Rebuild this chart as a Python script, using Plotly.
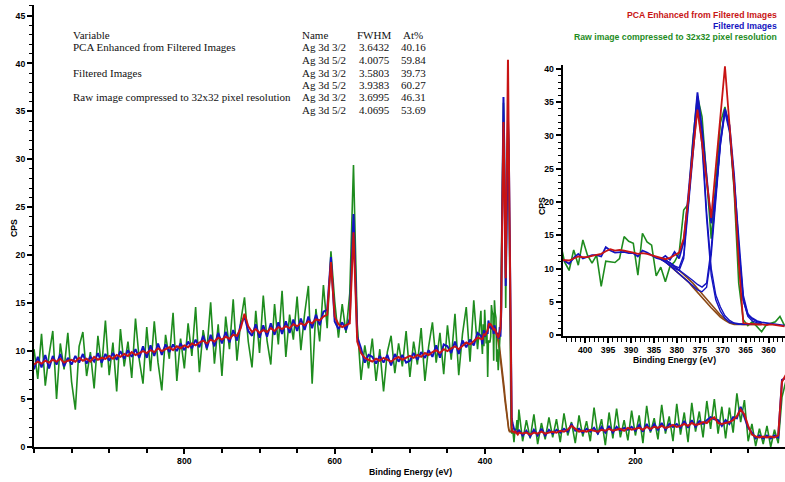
import plotly.graph_objects as go

W, H = 785, 482

# ---------------- energy grids (eV) ----------------
energy_survey_high = [1000 - 5 * i for i in range(119)]   # 1000 .. 410
energy_detail = [405.5 - i for i in range(50)]            # 405.5 .. 356.5
energy_survey_low = [355 - 5 * i for i in range(72)]      # 355 .. 0
energy_fit = [383.5 - i for i in range(23)]               # 383.5 .. 361.5

# ---------------- PCA enhanced (red) ----------------
pca_high = [8.6, 8.9, 8.7, 9.0, 8.8, 9.1, 8.9, 9.2, 8.8, 9.0,
            9.1, 8.9, 9.3, 9.0, 9.2, 8.9, 9.4, 9.1, 9.3, 9.2,
            9.5, 9.2, 9.6, 9.4, 9.7, 9.5, 9.9, 9.6, 9.8, 10.0,
            9.8, 10.1, 9.9, 10.3, 10.0, 10.2, 10.4, 10.1, 10.5, 10.3,
            10.6, 10.4, 10.8, 10.6, 10.9, 11.1, 10.8, 11.2, 11.0, 11.4,
            11.2, 11.5, 11.3, 11.7, 11.6, 12.4, 13.9, 12.6, 12.0, 12.3,
            11.9, 12.2, 12.0, 12.4, 12.1, 12.5, 12.3, 12.6, 12.4, 12.8,
            12.6, 12.9, 12.7, 13.1, 12.9, 13.3, 13.2, 13.6, 13.8, 19.3,
            13.6, 12.8, 12.5, 12.7, 12.9, 22.4, 11.0, 9.8, 9.3, 9.1,
            8.9, 9.2, 9.0, 9.3, 9.1, 8.9, 9.2, 9.4, 9.1, 9.3,
            9.5, 9.3, 9.6, 9.4, 9.8, 9.6, 9.9, 10.1, 9.8, 10.2,
            10.0, 10.3, 10.5, 10.2, 10.6, 10.9, 10.7, 11.1, 11.4]
pca_detail = [11.3, 11.3, 11.2, 11.5, 11.8, 11.7, 11.7, 11.9, 12.0, 12.2,
              12.6, 12.9, 12.7, 12.8, 12.7, 12.6, 12.4, 12.2, 12.3, 12.2,
              12.0, 11.8, 11.5, 11.4, 11.6, 12.0, 12.4, 14.5, 20.5, 27.5,
              33.9, 28.8, 23.2, 17.6, 25.2, 32.8, 40.4, 31.5, 22.5, 11.0,
              1.8, 1.7, 1.6, 1.6, 1.6, 1.5, 1.6, 1.5, 1.4, 1.3]
pca_low = [1.5, 1.4, 1.5, 1.3, 1.5, 1.4, 1.6, 1.4, 1.5, 1.6,
           1.5, 1.7, 1.6, 1.8, 2.2, 1.9, 1.6, 1.7, 1.6, 1.8,
           1.7, 1.6, 1.8, 1.7, 1.9, 1.7, 1.8, 1.9, 1.7, 2.0,
           1.8, 1.9, 2.0, 1.8, 2.1, 1.9, 2.1, 2.0, 2.2, 2.0,
           2.1, 2.3, 2.1, 2.2, 2.4, 2.2, 2.5, 2.3, 2.4, 2.6,
           2.5, 2.9, 3.1, 2.5, 2.4, 2.5, 2.6, 2.8, 3.2, 3.9,
           3.4, 2.2, 1.3, 1.1, 1.0, 1.1, 1.0, 1.1, 1.0, 1.2,
           6.8, 7.5]

# ---------------- Filtered images (blue) ----------------
filt_high = [8.1, 9.4, 8.3, 9.6, 8.2, 9.5, 8.6, 9.7, 8.4, 9.3,
             8.6, 9.5, 8.8, 9.7, 8.7, 9.4, 8.9, 9.8, 8.8, 9.7,
             9.0, 9.8, 9.1, 10.0, 9.2, 10.1, 9.4, 10.2, 9.3, 10.5,
             9.3, 10.6, 9.5, 10.8, 9.6, 10.7, 9.9, 10.7, 10.0, 10.8,
             10.1, 11.0, 10.3, 11.2, 10.4, 11.6, 10.3, 11.7, 10.5, 11.9,
             10.8, 12.0, 10.9, 12.2, 11.1, 12.8, 13.6, 12.1, 11.6, 12.8,
             11.4, 12.7, 11.5, 12.9, 11.7, 13.0, 11.8, 13.1, 11.9, 13.3,
             12.1, 13.4, 12.2, 13.6, 12.4, 13.8, 12.7, 14.1, 14.3, 19.8,
             13.1, 12.3, 13.0, 12.2, 13.4, 24.3, 11.5, 10.3, 8.8, 9.6,
             9.4, 8.7, 9.5, 8.8, 9.6, 8.5, 9.7, 8.9, 9.6, 8.8,
             9.0, 9.8, 9.1, 9.9, 9.3, 10.1, 9.4, 10.6, 9.3, 10.7,
             10.5, 9.8, 11.0, 9.7, 11.1, 10.4, 11.2, 10.6, 11.9]
filt_detail = [11.6, 11.2, 10.7, 11.6, 12.2, 11.5, 11.8, 12.0, 12.0, 11.8,
               13.2, 12.7, 12.4, 12.5, 12.5, 12.3, 12.3, 11.8, 12.7, 12.4,
               12.0, 11.6, 11.4, 11.9, 11.3, 12.5, 11.5, 14.0, 21.0, 29.0,
               36.5, 31.0, 24.0, 16.8, 21.5, 29.0, 34.0, 31.5, 24.0, 13.0,
               5.3, 3.0, 2.5, 2.1, 1.9, 1.8, 1.7, 1.6, 1.6, 1.4]
filt_low = [1.8, 1.2, 1.7, 1.1, 1.8, 1.2, 1.9, 1.2, 1.8, 1.4,
            1.8, 1.5, 1.9, 1.6, 2.4, 1.7, 1.9, 1.5, 1.9, 1.6,
            2.0, 1.4, 2.1, 1.5, 2.2, 1.5, 2.1, 1.7, 2.0, 1.8,
            2.1, 1.7, 2.3, 1.6, 2.4, 1.7, 2.4, 1.8, 2.5, 1.8,
            2.4, 2.1, 2.4, 2.0, 2.7, 2.0, 2.8, 2.1, 2.7, 2.4,
            2.8, 3.1, 2.9, 2.8, 2.2, 2.8, 2.4, 3.1, 3.0, 4.2,
            3.1, 2.0, 1.5, 0.9, 1.2, 0.9, 1.2, 0.9, 1.2, 1.0,
            7.0, 7.2]

# ---------------- Raw 32x32 image (green) ----------------
raw_high = [10.2, 7.1, 11.8, 6.4, 9.6, 12.1, 5.0, 10.8, 8.1, 11.9,
            6.8, 3.9, 10.5, 12.0, 7.4, 9.9, 6.1, 11.6, 8.3, 13.2,
            7.5, 10.9, 5.8, 12.3, 8.4, 11.0, 7.2, 13.4, 9.1, 6.6,
            12.5, 7.9, 13.1, 8.8, 5.9, 11.7, 9.2, 14.0, 6.9, 11.3,
            8.2, 12.9, 9.5, 14.6, 7.8, 12.2, 10.1, 15.1, 8.7, 12.8,
            7.4, 13.6, 10.2, 15.4, 9.0, 13.1, 15.6, 11.0, 8.3, 14.2,
            9.8, 15.8, 11.1, 8.6, 14.9, 10.7, 16.3, 9.4, 13.8, 11.2,
            15.7, 10.1, 13.9, 16.8, 6.6, 14.4, 11.0, 16.9, 12.4, 20.4,
            15.2, 11.4, 14.9, 11.9, 16.0, 29.4, 12.8, 7.0, 10.6, 8.2,
            11.3, 6.9, 10.2, 5.8, 9.9, 11.6, 7.7, 10.8, 8.4, 12.1,
            7.3, 11.0, 8.6, 12.4, 6.9, 10.5, 13.0, 8.8, 11.9, 7.6,
            12.7, 9.1, 13.9, 7.5, 11.8, 14.6, 8.9, 15.3, 10.2]
raw_detail = [14.2, 11.0, 9.7, 12.8, 10.5, 14.3, 12.0, 10.8, 12.0, 7.3,
              11.1, 11.0, 10.9, 11.5, 14.8, 14.1, 13.8, 9.0, 15.3, 14.0,
              13.5, 8.9, 10.2, 8.0, 10.3, 11.0, 12.3, 18.8, 19.7, 29.3,
              35.9, 32.8, 23.3, 14.5, 22.8, 31.9, 34.3, 30.8, 21.8, 7.8,
              2.3, 1.4, 2.0, 1.3, 0.5, 1.5, 1.8, 2.0, 2.8, 1.4]
raw_low = [3.9, 0.6, 2.8, 0.9, 3.4, 0.3, 2.5, 0.8, 3.1, 1.0,
           2.9, 0.5, 3.5, 1.2, 2.6, 0.4, 3.3, 1.1, 2.7, 0.6,
           4.1, 1.3, 2.9, 0.2, 3.6, 0.9, 4.0, 1.0, 2.8, 0.7,
           3.8, 1.2, 3.3, 0.4, 4.3, 1.5, 3.0, 0.8, 4.4, 1.4,
           3.2, 0.6, 4.5, 1.3, 3.6, 0.5, 4.6, 1.6, 3.7, 1.0,
           4.8, 1.9, 5.0, 1.4, 4.2, 0.9, 4.1, 1.5, 5.6, 2.6,
           4.9, 0.6, 2.4, 0.1, 1.9, 0.3, 2.2, 0.0, 1.8, 0.4,
           5.2, 6.8]

# ---------------- Ag 3d fit: backgrounds (brown) and components (blue) ----------------
background_a = [11.6, 11.3, 10.8, 10.3, 9.7, 9.1, 8.5, 7.8, 7.0, 6.2, 5.3, 4.5,
                3.7, 3.0, 2.4, 1.9, 1.7, 1.6, 1.6, 1.6, 1.6, 1.6, 1.6]
background_b = [11.4, 11.0, 10.4, 9.8, 9.2, 8.6, 8.0, 7.2, 6.4, 5.6, 4.8, 4.1,
                3.4, 2.7, 2.2, 1.8, 1.6, 1.6, 1.6, 1.6, 1.6, 1.6, 1.6]
comp_32_a = [11.6, 11.3, 10.9, 10.4, 10.1, 12.0, 19.5, 28.0, 35.5, 29.5, 18.5, 10.0,
             6.0, 4.2, 2.9, 2.2, 1.8, 1.7, 1.6, 1.6, 1.6, 1.6, 1.6]
comp_52_a = [11.6, 11.3, 10.8, 10.3, 9.8, 9.2, 8.7, 8.2, 7.6, 7.2, 7.8, 13.0,
             21.0, 29.0, 34.0, 31.0, 23.5, 14.0, 6.0, 3.2, 2.4, 2.0, 1.8]
comp_32_b = [11.4, 11.0, 10.5, 10.0, 9.7, 11.5, 19.0, 27.5, 34.5, 28.5, 17.5, 9.0,
             5.3, 3.6, 2.5, 1.9, 1.7, 1.6, 1.6, 1.6, 1.6, 1.6, 1.6]
comp_52_b = [11.4, 11.0, 10.4, 9.8, 9.2, 8.6, 8.0, 7.4, 6.8, 6.5, 7.2, 12.0,
             20.0, 28.5, 33.5, 30.5, 22.5, 13.0, 5.2, 2.8, 2.1, 1.8, 1.6]

# ---------------- table / legend text ----------------
series_names = ["PCA Enhanced from Filtered Images", "Filtered Images",
                "Raw image compressed to 32x32 pixel resolution"]
peak_names = ["Ag 3d 3/2", "Ag 3d 5/2"]
fwhm_values = ["3.6432", "4.0075", "3.5803", "3.9383", "3.6995", "4.0695"]
atpct_values = ["40.16", "59.84", "39.73", "60.27", "46.31", "53.69"]

RED = "#c81414"
BLUE = "#1414c0"
GREEN = "#1e8c1e"
BROWN = "#8c4a16"

energy_main = energy_survey_high + energy_detail + energy_survey_low
pca_main = pca_high + pca_detail + pca_low
filt_main = filt_high + filt_detail + filt_low
raw_main = raw_high + raw_detail + raw_low

fig = go.Figure()

# main survey
for bg in (background_a, background_b):
    fig.add_trace(go.Scatter(x=energy_fit, y=bg, mode="lines",
                             line=dict(color=BROWN, width=1.5), xaxis="x", yaxis="y"))
fig.add_trace(go.Scatter(x=energy_main, y=raw_main, mode="lines",
                         line=dict(color=GREEN, width=1.6), xaxis="x", yaxis="y"))
fig.add_trace(go.Scatter(x=energy_main, y=filt_main, mode="lines",
                         line=dict(color=BLUE, width=2), xaxis="x", yaxis="y"))
fig.add_trace(go.Scatter(x=energy_main, y=pca_main, mode="lines",
                         line=dict(color=RED, width=2), xaxis="x", yaxis="y"))

# inset
fig.add_trace(go.Scatter(x=energy_detail, y=raw_detail, mode="lines",
                         line=dict(color=GREEN, width=1.6), xaxis="x2", yaxis="y2"))
for bg in (background_a, background_b):
    fig.add_trace(go.Scatter(x=energy_fit, y=bg, mode="lines",
                             line=dict(color=BROWN, width=1.6), xaxis="x2", yaxis="y2"))
for comp in (comp_32_a, comp_52_a, comp_32_b, comp_52_b):
    fig.add_trace(go.Scatter(x=energy_fit, y=comp, mode="lines",
                             line=dict(color=BLUE, width=1.4), xaxis="x2", yaxis="y2"))
fig.add_trace(go.Scatter(x=energy_detail, y=filt_detail, mode="lines",
                         line=dict(color=BLUE, width=1.8), xaxis="x2", yaxis="y2"))
fig.add_trace(go.Scatter(x=energy_detail, y=pca_detail, mode="lines",
                         line=dict(color=RED, width=1.8), xaxis="x2", yaxis="y2"))


def px(xp):
    return xp / W


def py(yp):
    return 1 - yp / H


SANS = "Liberation Sans, Arial, sans-serif"
SERIF = "Liberation Serif, Times New Roman, serif"
tickfont = dict(family=SANS, size=8.7, color="#000000", weight="bold")

axis_common = dict(showline=True, linecolor="#000000", linewidth=2, ticks="outside",
                   tickcolor="#000000", tickwidth=1.5, ticklen=5, showgrid=False,
                   zeroline=False, tickfont=tickfont, automargin=False)

fig.update_layout(
    template="none",
    width=W, height=H, autosize=False,
    margin=dict(l=0, r=0, t=0, b=0, pad=0),
    paper_bgcolor="white", plot_bgcolor="white",
    showlegend=False,
    xaxis=dict(domain=[px(34), 1.0], range=[1000, 1], anchor="y",
               tickmode="array", tickvals=[800, 600, 400, 200],
               minor=dict(dtick=50, tick0=0, ticks="outside", ticklen=4,
                          tickcolor="#000000", tickwidth=1.5),
               **axis_common),
    yaxis=dict(domain=[py(447), py(5)], range=[0, 46.1], anchor="x",
               tickmode="linear", tick0=0, dtick=5,
               minor=dict(dtick=1, tick0=0, ticks="outside", ticklen=3,
                          tickcolor="#000000", tickwidth=1.2),
               **axis_common),
    xaxis2=dict(domain=[px(562.7), 1.0], range=[404.9, 356.4], anchor="y2",
                tickmode="linear", tick0=0, dtick=5,
                minor=dict(dtick=1, tick0=0, ticks="outside", ticklen=4,
                           tickcolor="#000000", tickwidth=1.2),
                **axis_common),
    yaxis2=dict(domain=[py(336), py(65)], range=[-0.15, 40.6], anchor="x2",
                tickmode="linear", tick0=0, dtick=5,
                minor=dict(dtick=1, tick0=0, ticks="outside", ticklen=3,
                           tickcolor="#000000", tickwidth=1.2),
                **axis_common),
)

annotations = []
titlefont = dict(family=SANS, size=8.7, color="#000000", weight="bold")
# axis titles
annotations.append(dict(text="Binding Energy (eV)", x=px(410), y=py(472), xref="paper", yref="paper",
                        xanchor="center", yanchor="middle", showarrow=False, font=titlefont))
annotations.append(dict(text="CPS", x=px(14), y=py(228), xref="paper", yref="paper", textangle=-90,
                        xanchor="center", yanchor="middle", showarrow=False, font=titlefont))
annotations.append(dict(text="Binding Energy (eV)", x=px(674), y=py(360), xref="paper", yref="paper",
                        xanchor="center", yanchor="middle", showarrow=False, font=titlefont))
annotations.append(dict(text="CPS", x=px(542), y=py(206), xref="paper", yref="paper", textangle=-90,
                        xanchor="center", yanchor="middle", showarrow=False, font=titlefont))

# colored legend (top right)
for i, (name, col) in enumerate(zip(series_names, (RED, BLUE, GREEN))):
    annotations.append(dict(text=name, x=px(779), y=py(15 + 11 * i), xref="paper", yref="paper",
                            xanchor="right", yanchor="middle", showarrow=False,
                            font=dict(family=SANS, size=8.7, color=col, weight="bold")))

# fit table
tfont = dict(family=SERIF, size=11, color="#111111")
row_y = [35 + 12.5 * r for r in range(7)]
header = [("Variable", 71), ("Name", 300), ("FWHM", 355), ("At%", 401)]
for txt, xp in header:
    annotations.append(dict(text=txt, x=px(xp), y=py(row_y[0]), xref="paper", yref="paper",
                            xanchor="left", yanchor="middle", showarrow=False, font=tfont))
for r in range(6):
    yy = py(row_y[r + 1])
    if r % 2 == 0:
        annotations.append(dict(text=series_names[r // 2], x=px(71), y=yy, xref="paper", yref="paper",
                                xanchor="left", yanchor="middle", showarrow=False, font=tfont))
    annotations.append(dict(text=peak_names[r % 2], x=px(300), y=yy, xref="paper", yref="paper",
                            xanchor="left", yanchor="middle", showarrow=False, font=tfont))
    annotations.append(dict(text=fwhm_values[r], x=px(357), y=yy, xref="paper", yref="paper",
                            xanchor="left", yanchor="middle", showarrow=False, font=tfont))
    annotations.append(dict(text=atpct_values[r], x=px(399), y=yy, xref="paper", yref="paper",
                            xanchor="left", yanchor="middle", showarrow=False, font=tfont))

fig.update_layout(annotations=annotations)

fig.write_html("out.html")
